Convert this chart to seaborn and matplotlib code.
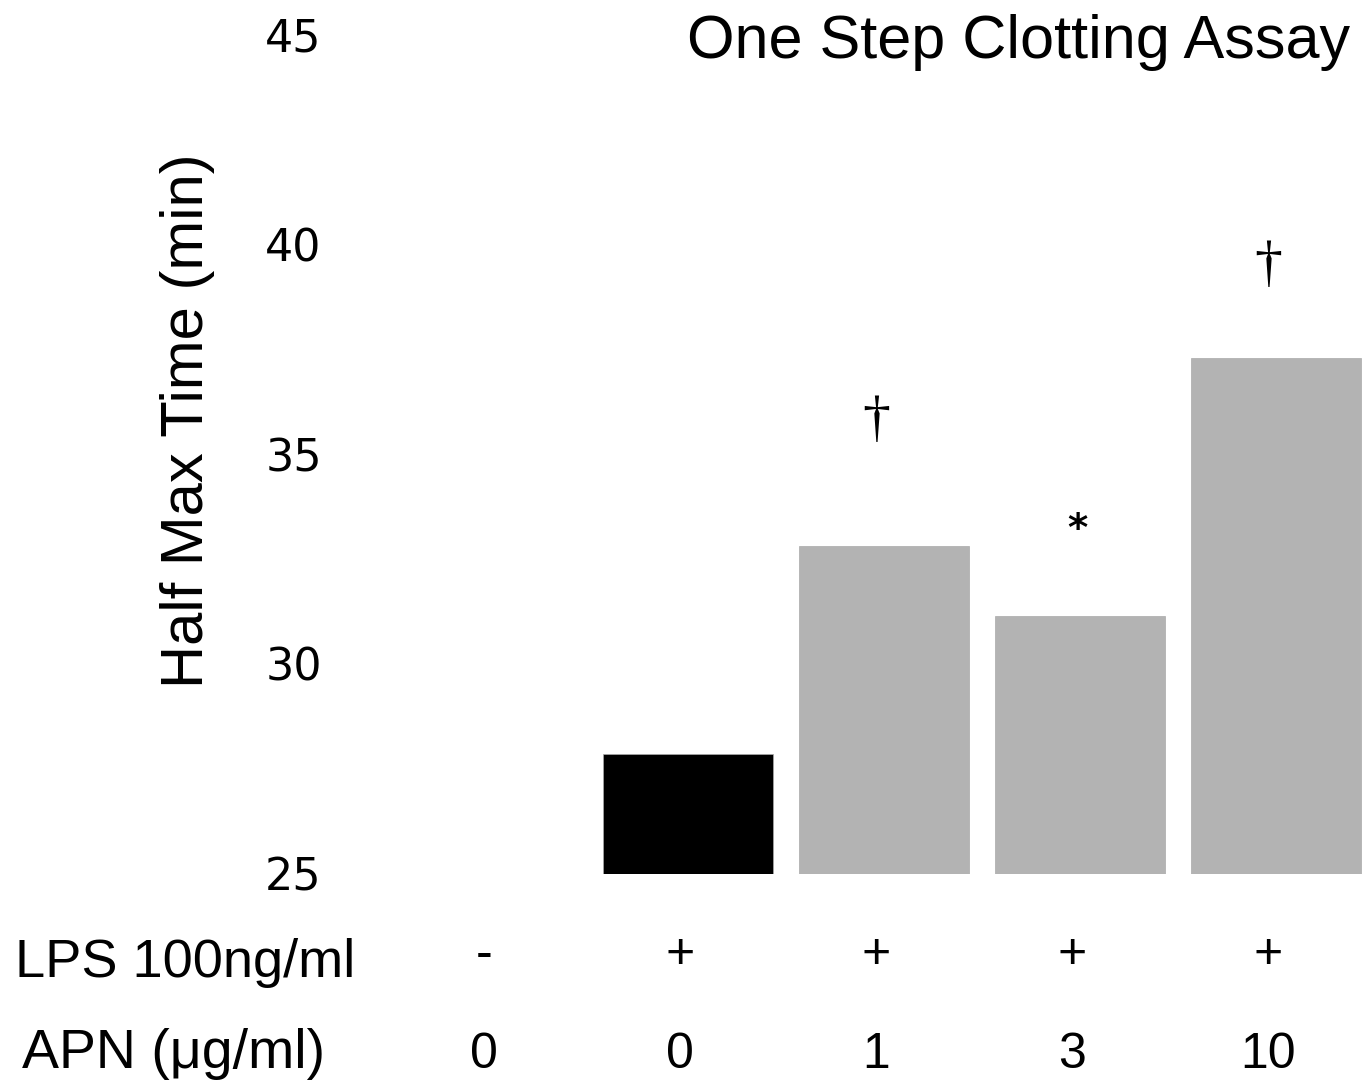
import numpy as np
import pandas as pd
import matplotlib
matplotlib.use("Agg")
import matplotlib.pyplot as plt
import matplotlib.transforms as mtransforms
import seaborn as sns

sns.set_style("white")
plt.rcParams["text.color"] = "black"
plt.rcParams["ytick.color"] = "black"

# ----------------------------------
# Data
# ----------------------------------
groups = ["g0", "g1", "g2", "g3", "g4"]
lps_labels = ["-", "+", "+", "+", "+"]
apn_labels = ["0", "0", "1", "3", "10"]
half_max_time = [np.nan, 27.85, 32.8, 31.15, 37.3]
bar_colors = ["#000000", "#000000", "#b3b3b3", "#b3b3b3", "#b3b3b3"]
marks = ["", "", "\u2020", "*", "\u2020"]
mark_y = [np.nan, np.nan, 35.8, 33.2, 39.5]

df = pd.DataFrame({"group": groups, "time": half_max_time})

W, H = 1370, 1089
fig = plt.figure(figsize=(W / 100, H / 100), dpi=100)
ax = fig.add_axes([394 / W, (H - 873.5) / H, 970 / W, 838.5 / H])

sns.barplot(
    data=df, x="group", y="time", hue="group",
    palette=dict(zip(groups, bar_colors)), order=groups,
    width=0.87, legend=False, ax=ax,
    edgecolor="#aaaaaa", linewidth=0.5,
)

ax.set_ylim(25, 45)
ax.set_xlim(-0.5, 4.45)
ax.set_yticks([25, 30, 35, 40, 45])
ax.set_yticklabels(["25", "30", "35", "40", "45"], fontsize=32,
                   family="DejaVu Sans", color="black")
ax.tick_params(axis="y", length=0, pad=52)
ax.set_xticks([])
ax.set_xlabel("")
ax.set_ylabel("")
for s in ax.spines.values():
    s.set_visible(False)

# significance marks
for i, (m, yv) in enumerate(zip(marks, mark_y)):
    if m == "*":
        ax.text(i - 0.01, yv, m, ha="center", va="center", fontsize=28,
                family="DejaVu Sans", fontweight="bold")
    elif m:
        ax.text(i - 0.04, yv, m, ha="center", va="center", fontsize=40,
                family="Liberation Serif")

# condition rows under the bars
trans = mtransforms.blended_transform_factory(ax.transData, fig.transFigure)
for i in range(len(groups)):
    ax.text(i - 0.04, 1 - 955 / H, lps_labels[i], transform=trans, ha="center",
            va="center", fontsize=36, family="Liberation Sans")
    ax.text(i - 0.04, 1 - 1068 / H, apn_labels[i], transform=trans, ha="center",
            va="baseline", fontsize=36, family="Liberation Sans")

fig.text(15 / W, 1 - 977 / H, "LPS 100ng/ml", ha="left", va="baseline",
         fontsize=39, family="Liberation Sans")
fig.text(22 / W, 1 - 1068 / H, "APN (\u03bcg/ml)", ha="left", va="baseline",
         fontsize=40, family="Liberation Sans")

fig.text(203 / W, 1 - 421 / H, "Half Max Time (min)", rotation=90,
         rotation_mode="anchor", ha="center", va="baseline",
         fontsize=43, family="Liberation Sans")

fig.text(1019 / W, 1 - 58 / H, "One Step Clotting Assay", ha="center",
         va="baseline", fontsize=44, family="Liberation Sans")

fig.savefig("out.png", dpi=100, facecolor="white")
